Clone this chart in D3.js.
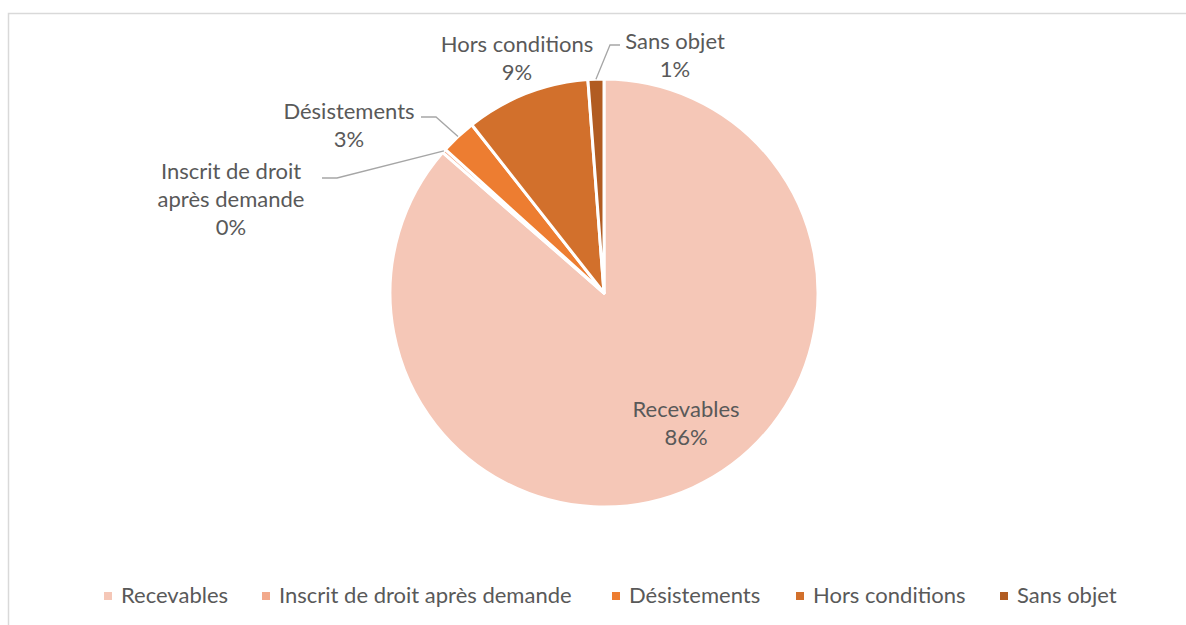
<!DOCTYPE html>
<html>
<head>
<meta charset="utf-8">
<script src="https://cdn.jsdelivr.net/npm/d3@7"></script>
<style>
  body { margin: 0; background: #fff; }
  svg text { font-family: Lato, "Open Sans", sans-serif; fill: #595959; }
</style>
</head>
<body>
<svg id="chart" width="1186" height="625"></svg>
<script>
// data
const categories = ["Recevables", "Inscrit de droit après demande", "Désistements", "Hors conditions", "Sans objet"];
const counts = [864, 3, 27, 94, 12];
const colors = ["#f5c7b7", "#f2a98b", "#ed7d31", "#d2702c", "#b15c22"];
// how each slice label is written (lines) and placed relative to pie centre
const labelLines = [["Recevables"], ["Inscrit de droit", "après demande"], ["Désistements"], ["Hors conditions"], ["Sans objet"]];
const labelPlace = [
  { x: 82, y: 124, leader: false },
  { x: -373, y: -114, leader: true, lineX: -282, lineY: -115 },
  { x: -255, y: -174, leader: true, lineX: -183, lineY: -176 },
  { x: -87, y: -241, leader: false },
  { x: 71, y: -244, leader: true, lineX: 16, lineY: -248 }
];

const svg = d3.select("#chart");
const cx = 604, cy = 293, radius = 214;
const fontSize = 22, lineH = 28;

// chart frame (runs off the right and bottom edge)
svg.append("rect")
  .attr("x", 8.5).attr("y", 13.5)
  .attr("width", 1300).attr("height", 700)
  .attr("fill", "none")
  .attr("stroke", "#d9d9d9")
  .attr("stroke-width", 1.5);

const total = d3.sum(counts);
const data = categories.map((c, i) => ({ name: c, value: counts[i], color: colors[i], i: i }));

const pie = d3.pie().value(d => d.value).sort(null);
const arcs = pie(data);
const arc = d3.arc().innerRadius(0).outerRadius(radius);

const g = svg.append("g").attr("transform", `translate(${cx},${cy})`);

g.selectAll(".slice")
  .data(arcs)
  .enter().append("path")
  .attr("class", "slice")
  .attr("d", arc)
  .attr("fill", d => d.data.color)
  .attr("stroke", "#fff")
  .attr("stroke-width", 3)
  .attr("stroke-linejoin", "round");

const pct = d3.format(".0%");

// leader lines: from label to the edge of the slice at its mid angle
arcs.forEach(a => {
  const p = labelPlace[a.index];
  if (!p.leader) return;
  const mid = (a.startAngle + a.endAngle) / 2;
  const ex = Math.sin(mid) * radius, ey = -Math.cos(mid) * radius;
  const kink = p.lineX < 0 ? p.lineX + 15 : p.lineX - 10;
  g.append("polyline")
    .attr("points", [[p.lineX, p.lineY], [kink, p.lineY], [ex, ey]].map(q => q.join(",")).join(" "))
    .attr("fill", "none")
    .attr("stroke", "#a6a6a6")
    .attr("stroke-width", 1.3);
});

// slice labels
arcs.forEach(a => {
  const p = labelPlace[a.index];
  const lines = labelLines[a.index].concat([pct(a.data.value / total)]);
  const t = g.append("text")
    .attr("text-anchor", "middle")
    .style("font-size", fontSize + "px");
  lines.forEach((l, k) => {
    t.append("tspan")
      .attr("x", p.x)
      .attr("y", p.y + k * lineH)
      .text(l);
  });
});

// legend
const legendStarts = [104, 262, 612, 796, 1000];
const legend = svg.append("g").attr("transform", "translate(0,596)");
const items = legend.selectAll(".item")
  .data(data)
  .enter().append("g")
  .attr("class", "item")
  .attr("transform", (d, i) => `translate(${legendStarts[i]},0)`);
items.append("rect")
  .attr("x", 0).attr("y", -4)
  .attr("width", 8).attr("height", 8)
  .attr("fill", d => d.color);
items.append("text")
  .attr("x", 17).attr("y", 7)
  .style("font-size", fontSize + "px")
  .text(d => d.name);
</script>
</body>
</html>
